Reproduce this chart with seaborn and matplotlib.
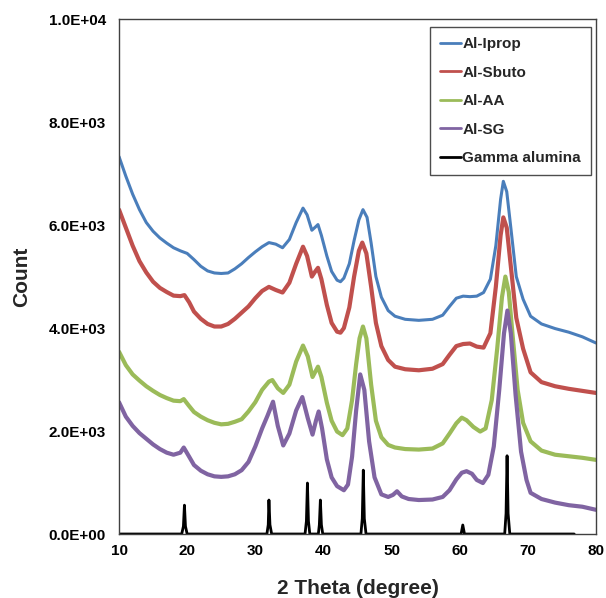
import numpy as np
import pandas as pd
import seaborn as sns
import matplotlib
matplotlib.use("Agg")
import matplotlib.pyplot as plt
from matplotlib.ticker import FuncFormatter

# XRD patterns: 2-theta (degree) and counts
iprop_x = [10, 11, 12, 13, 14, 15, 16, 17, 18, 19, 20, 21, 22, 23, 24, 25, 26, 27, 28, 29,
           30, 31, 32, 33, 34, 35, 36, 37, 37.6, 38.3, 38.8, 39.2, 39.7, 40.5, 41.2, 42,
           42.5, 43, 43.8, 44.5, 45.2, 45.8, 46.4, 47, 47.7, 48.5, 49.5, 50.5, 52, 54, 56,
           57.5, 58.5, 59.5, 60.5, 61.5, 62.5, 63.5, 64.5, 65.3, 66, 66.4, 66.9, 67.5, 68.3,
           69.3, 70.4, 72, 74, 76, 78, 80]
iprop_y = [7330, 6950, 6600, 6300, 6050, 5880, 5750, 5650, 5560, 5500, 5450, 5330, 5200,
           5110, 5070, 5060, 5070, 5150, 5250, 5370, 5480, 5580, 5660, 5630, 5560, 5720,
           6050, 6330, 6200, 5900, 5960, 6010, 5800, 5400, 5100, 4930, 4900, 4970, 5250,
           5700, 6100, 6300, 6150, 5650, 5000, 4600, 4340, 4230, 4170, 4150, 4170, 4250,
           4420, 4580, 4620, 4610, 4620, 4690, 4950, 5600, 6500, 6850, 6650, 5950, 5000,
           4560, 4230, 4080, 3990, 3920, 3830, 3710]

sbuto_x = [10, 11, 12, 13, 14, 15, 16, 17, 18, 19, 19.6, 20.3, 21, 22, 23, 24, 25, 26, 27,
           28, 29, 30, 31, 32, 33, 34, 35, 36, 37, 37.6, 38.3, 38.8, 39.2, 39.7, 40.5, 41.2,
           42, 42.5, 43, 43.8, 44.5, 45.2, 45.7, 46.3, 47, 47.7, 48.5, 49.5, 50.5, 52, 54,
           56, 57.5, 58.5, 59.5, 60.5, 61.5, 62.5, 63.5, 64.5, 65.3, 66, 66.4, 66.9, 67.5,
           68.3, 69.3, 70.4, 72, 74, 76, 78, 80]
sbuto_y = [6300, 5950, 5600, 5300, 5080, 4900, 4780, 4700, 4630, 4620, 4640, 4500, 4320,
           4180, 4080, 4030, 4030, 4080, 4180, 4300, 4420, 4580, 4720, 4800, 4740, 4690,
           4880, 5250, 5580, 5400, 5000, 5100, 5170, 4950, 4450, 4100, 3930, 3910, 4000,
           4400, 5000, 5500, 5660, 5450, 4800, 4100, 3650, 3380, 3250, 3200, 3180, 3210,
           3300, 3480, 3650, 3690, 3700, 3640, 3620, 3900, 4800, 5800, 6150, 5950, 5200,
           4200, 3600, 3140, 2950, 2870, 2820, 2780, 2740]

aa_x = [10, 11, 12, 13, 14, 15, 16, 17, 18, 19, 19.5, 20.2, 21, 22, 23, 24, 25, 26, 27, 28,
        29, 30, 31, 32, 32.5, 33.3, 34.1, 35, 36, 37, 37.7, 38.4, 38.8, 39.2, 39.7, 40.5,
        41.2, 42, 42.8, 43.5, 44.2, 44.8, 45.3, 45.8, 46.3, 47, 47.7, 48.5, 49.5, 50.5, 52,
        54, 56, 57.5, 58.5, 59.5, 60.3, 61, 62, 63, 63.8, 64.7, 65.5, 66.2, 66.7, 67.2,
        67.8, 68.5, 69.3, 70.4, 72, 74, 76, 78, 80]
aa_y = [3540, 3280, 3100, 2980, 2870, 2780, 2700, 2640, 2590, 2580, 2620, 2500, 2370, 2280,
        2210, 2160, 2130, 2140, 2180, 2230, 2380, 2560, 2800, 2960, 2990, 2830, 2740, 2900,
        3350, 3660, 3450, 3050, 3150, 3250, 3050, 2550, 2200, 1990, 1920, 2050, 2600, 3300,
        3800, 4030, 3800, 2900, 2200, 1880, 1730, 1680, 1650, 1640, 1660, 1760, 1950, 2150,
        2260, 2210, 2080, 1990, 2050, 2600, 3600, 4600, 5000, 4700, 3800, 2800, 2160, 1800,
        1620, 1540, 1510, 1480, 1440]

sg_x = [10, 11, 12, 13, 14, 15, 16, 17, 18, 19, 19.5, 20.3, 21, 22, 23, 24, 25, 26, 27, 28,
        29, 30, 31, 31.8, 32.6, 33.3, 34.1, 35, 36, 36.9, 37.7, 38.4, 38.9, 39.3, 39.8,
        40.5, 41.2, 42, 43, 43.6, 44.2, 44.8, 45.4, 46, 46.7, 47.5, 48.5, 49.5, 50.2, 50.8,
        51.5, 52.5, 54, 56, 57.5, 58.5, 59.5, 60.3, 61, 61.8, 62.5, 63.4, 64.2, 65, 65.8,
        66.5, 67, 67.5, 68.2, 69, 69.8, 70.4, 72, 74, 76, 78, 80]
sg_y = [2560, 2280, 2100, 1960, 1850, 1740, 1650, 1580, 1540, 1580, 1680, 1500, 1340, 1230,
        1160, 1120, 1110, 1120, 1160, 1240, 1400, 1700, 2050, 2300, 2570, 2100, 1720, 1950,
        2400, 2660, 2250, 1930, 2200, 2380, 2050, 1450, 1100, 930, 850, 960, 1500, 2400,
        3100, 2800, 1800, 1100, 770, 720, 760, 830, 730, 680, 660, 670, 720, 850, 1060,
        1190, 1220, 1170, 1050, 990, 1150, 1700, 2800, 3900, 4340, 3900, 2700, 1600, 1050,
        800, 680, 610, 560, 530, 470]

gamma_x = [10, 19.2, 19.45, 19.6, 19.75, 20.0, 31.7, 31.9, 32.0, 32.15, 32.4, 37.3, 37.5,
           37.65, 37.8, 38.0, 39.25, 39.4, 39.55, 39.7, 39.9, 45.5, 45.7, 45.85, 46.0, 46.25,
           60.2, 60.45, 60.7, 66.6, 66.8, 66.95, 67.1, 67.35, 76.8]
gamma_y = [0, 0, 150, 560, 150, 0, 0, 180, 660, 180, 0, 0, 250, 990, 250, 0, 0, 180, 660,
           180, 0, 0, 300, 1240, 300, 0, 0, 175, 0, 0, 400, 1520, 400, 0, 0]

series_names = ["Al-Iprop", "Al-Sbuto", "Al-AA", "Al-SG", "Gamma alumina"]
series_colors = ["#4A7EBB", "#C0504D", "#9BBB59", "#8064A2", "#000000"]
series_widths = [2.2, 3.0, 3.0, 3.0, 2.0]
x_ticks = [10, 20, 30, 40, 50, 60, 70, 80]
y_ticks = [0, 2000, 4000, 6000, 8000, 10000]

sns.set_theme(style="white")
plt.rcParams["font.family"] = ["Liberation Sans", "DejaVu Sans"]
plt.rcParams["font.weight"] = "bold"

fig = plt.figure(figsize=(6.06, 5.98), dpi=100)
ax = fig.add_axes([0.1964, 0.107, 0.7871, 0.861])

pairs = [(iprop_x, iprop_y), (sbuto_x, sbuto_y), (aa_x, aa_y), (sg_x, sg_y),
         (gamma_x, gamma_y)]
for (xs, ys), name, col, lw in zip(pairs, series_names, series_colors, series_widths):
    df = pd.DataFrame({"theta": xs, "count": ys})
    sns.lineplot(data=df, x="theta", y="count", ax=ax, color=col, linewidth=lw,
                 label=name, sort=False, estimator=None)

ax.set_xlim(10, 80)
ax.set_ylim(0, 10000)
ax.set_xticks(x_ticks)
ax.set_yticks(y_ticks)
ax.yaxis.set_major_formatter(FuncFormatter(lambda v, p: f"{v:.1E}"))
ax.tick_params(axis="both", direction="in", length=4, width=1, color="#404040",
               labelsize=11, labelcolor="black")
ax.tick_params(axis="y", pad=9.5)
ax.tick_params(axis="x", pad=7)
for lab in ax.get_xticklabels() + ax.get_yticklabels():
    lab.set_fontweight("bold")
for sp in ax.spines.values():
    sp.set_visible(True)
    sp.set_color("#404040")
    sp.set_linewidth(1.0)

ax.set_xlabel("2 Theta (degree)", fontsize=15, fontweight="bold")
ax.set_ylabel("Count", fontsize=15, fontweight="bold")
ax.xaxis.set_label_coords(0.5, -0.087)
ax.yaxis.set_label_coords(-0.184, 0.5)

leg = ax.legend(loc="upper right", bbox_to_anchor=(0.9895, 0.984), borderaxespad=0,
                fontsize=11, frameon=True, fancybox=False, edgecolor="#202020",
                handlelength=1.35, handletextpad=0.1, labelspacing=0.95,
                borderpad=0.65)
leg.get_frame().set_linewidth(1.0)
for t in leg.get_texts():
    t.set_fontweight("bold")
for h in leg.get_lines():
    h.set_linewidth(2.0)

fig.savefig("out.png", dpi=100)
